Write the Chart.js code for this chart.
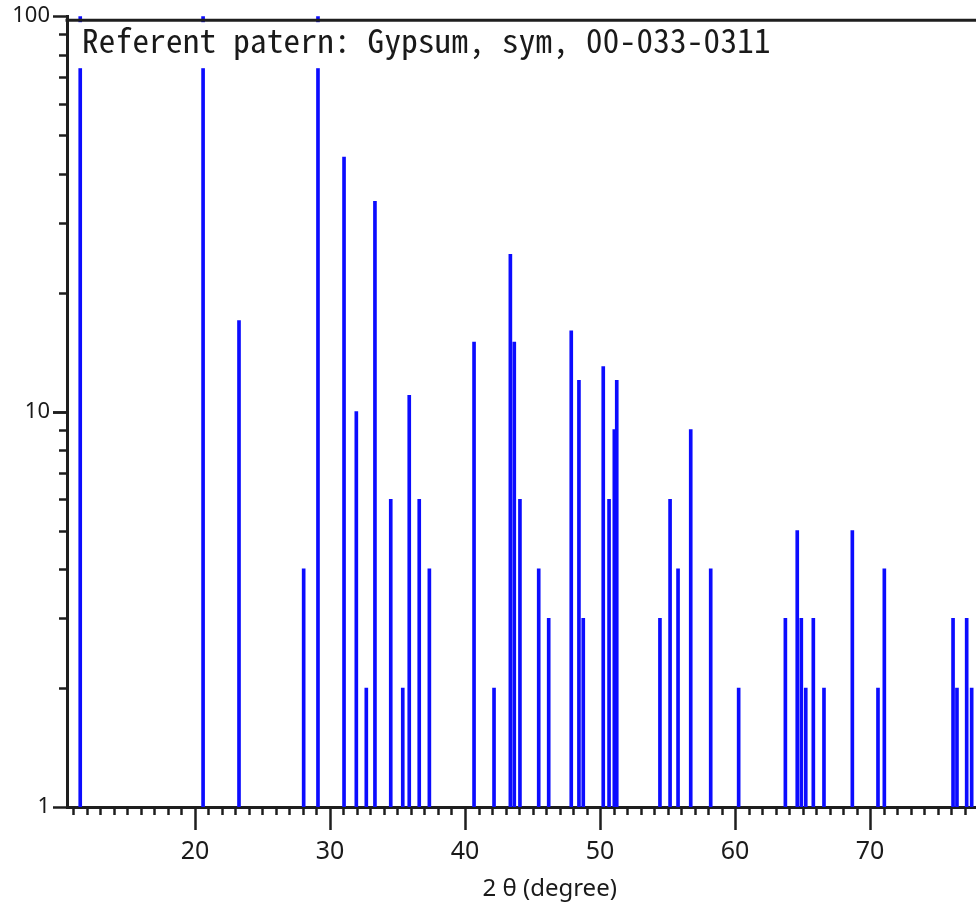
<!DOCTYPE html>
<html>
<head>
<meta charset="utf-8">
<script src="https://cdn.jsdelivr.net/npm/chart.js@4/dist/chart.umd.min.js"></script>
<style>
  html, body { margin: 0; padding: 0; background: #ffffff; }
  #wrap { width: 976px; height: 911px; position: relative; }
</style>
</head>
<body>
<div id="wrap"><canvas id="c" width="976" height="911"></canvas></div>
<script>
// ---- data ----
const twoTheta = [11.5, 20.6, 23.26, 28.05, 29.11, 31.04, 31.95, 32.69, 33.33, 34.50,
  35.39, 35.87, 36.61, 37.36, 40.67, 42.15, 43.36, 43.65, 44.07, 45.46,
  46.20, 47.87, 48.44, 48.76, 50.24, 50.67, 51.06, 51.24, 54.44, 55.19,
  55.78, 56.72, 58.20, 60.27, 63.73, 64.61, 64.91, 65.24, 65.80, 66.59,
  68.69, 70.59, 71.06, 76.15, 76.44, 77.16, 77.53];
const intensity = [100, 100, 17, 4, 100, 44, 10, 2, 34, 6,
  2, 11, 6, 4, 15, 2, 25, 15, 6, 4,
  3, 16, 12, 3, 13, 6, 9, 12, 3, 6,
  4, 9, 4, 2, 3, 5, 3, 2, 3, 2,
  5, 2, 4, 3, 2, 3, 2];
const xTickLabels = [20, 30, 40, 50, 60, 70];
const yTickLabels = [1, 10, 100];
const titleText = 'Referent patern: Gypsum, sym, 00-033-0311';
const xAxisTitle = '2 θ (degree)';

const AXIS = '#1e1e1e';
const BLUE = 'rgb(12,12,255)';

const points = twoTheta.map((t, i) => ({ x: t, y: intensity[i] }));

const decor = {
  id: 'decor',
  afterDraw(chart) {
    const ctx = chart.ctx;
    const xs = chart.scales.x, ys = chart.scales.y;
    const a = chart.chartArea;
    ctx.save();
    // top frame line
    ctx.strokeStyle = AXIS;
    ctx.lineWidth = 3;
    ctx.beginPath();
    ctx.moveTo(a.left - 1.5, a.top + 4);
    ctx.lineTo(a.right, a.top + 4);
    ctx.stroke();
    // x ticks
    ctx.lineWidth = 2.5;
    for (let v = Math.ceil(xs.min); v <= xs.max; v++) {
      const px = Math.round(xs.getPixelForValue(v)) + 0.5;
      const len = (v % 10 === 0) ? 23 : 8;
      ctx.beginPath();
      ctx.moveTo(px, a.bottom);
      ctx.lineTo(px, a.bottom + len);
      ctx.stroke();
    }
    // y ticks (log)
    for (let dec = 1; dec <= 10; dec *= 10) {
      for (let m = 1; m <= 10; m++) {
        const v = dec * m;
        if (v > ys.max || v < ys.min) continue;
        const py = Math.round(ys.getPixelForValue(v)) + 0.5;
        const major = (m === 1 || m === 10);
        ctx.beginPath();
        ctx.moveTo(a.left - (major ? 14 : 8), py);
        ctx.lineTo(a.left, py);
        ctx.stroke();
      }
    }
    // title box over the plot
    ctx.font = '33px "Noto Sans Mono CJK JP", "DejaVu Sans Mono", monospace';
    try { ctx.letterSpacing = '0.3px'; } catch (e) {}
    const w = ctx.measureText(titleText).width;
    ctx.fillStyle = '#ffffff';
    ctx.fillRect(a.left + 2, a.top + 6, w + 24, 46);
    ctx.fillStyle = '#1a1a1a';
    ctx.textBaseline = 'alphabetic';
    ctx.textAlign = 'left';
    ctx.fillText(titleText, a.left + 15, a.top + 37);
    try { ctx.letterSpacing = '0px'; } catch (e) {}
    // x axis title
    ctx.font = '24px "Noto Sans", "Liberation Sans", sans-serif';
    ctx.textAlign = 'center';
    ctx.textBaseline = 'middle';
    ctx.fillStyle = '#1a1a1a';
    ctx.fillText(xAxisTitle, a.left + 0.531 * (a.right - a.left), 889);
    ctx.restore();
  }
};

new Chart(document.getElementById('c'), {
  type: 'bar',
  data: {
    datasets: [{
      data: points,
      backgroundColor: BLUE,
      borderWidth: 0,
      barThickness: 3
    }]
  },
  options: {
    responsive: false,
    animation: false,
    devicePixelRatio: 1,
    layout: { padding: { top: 16, left: 0, right: 0, bottom: 0 } },
    plugins: { legend: { display: false }, tooltip: { enabled: false }, title: { display: false } },
    scales: {
      x: {
        type: 'linear',
        min: 10.52,
        max: 77.85,
        offset: false,
        grid: { display: false, drawTicks: true, tickLength: 23 },
        border: { display: true, color: AXIS, width: 3 },
        afterBuildTicks: (s) => { s.ticks = xTickLabels.map(v => ({ value: v })); },
        afterFit: (s) => { s.height = 104; },
        ticks: {
          autoSkip: false,
          maxRotation: 0,
          padding: 7,
          color: '#1a1a1a',
          font: { family: '"Noto Sans", "Liberation Sans", sans-serif', size: 25 },
          callback: (v) => String(v)
        }
      },
      y: {
        type: 'logarithmic',
        min: 1,
        max: 100,
        grid: { display: false, drawTicks: true, tickLength: 14 },
        border: { display: true, color: AXIS, width: 3 },
        afterBuildTicks: (s) => { s.ticks = yTickLabels.map(v => ({ value: v })); },
        afterFit: (s) => { s.width = 67; },
        ticks: {
          autoSkip: false,
          padding: 3,
          color: '#1a1a1a',
          font: { family: '"Noto Sans", "Liberation Sans", sans-serif', size: 22 },
          callback: (v) => String(v)
        }
      }
    }
  },
  plugins: [decor]
});
</script>
</body>
</html>
